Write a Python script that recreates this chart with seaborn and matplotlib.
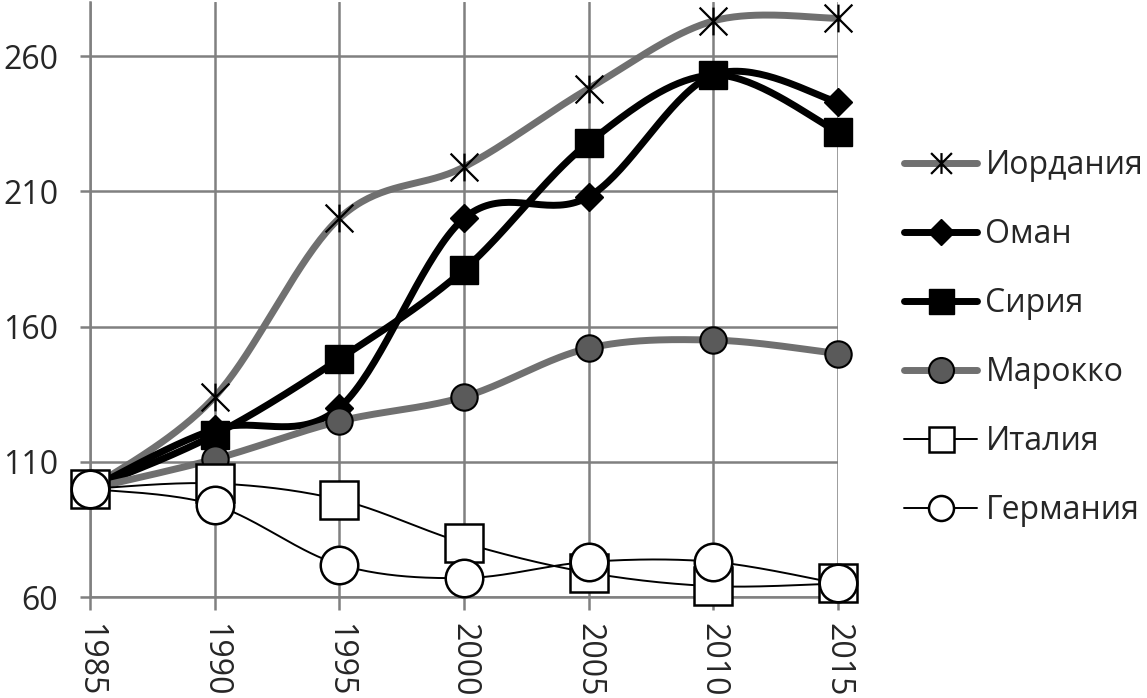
import numpy as np
import pandas as pd
import matplotlib
matplotlib.use("Agg")
import matplotlib.pyplot as plt
from matplotlib.path import Path
from matplotlib.lines import Line2D
import seaborn as sns

# %% Data ----
years = [1985, 1990, 1995, 2000, 2005, 2010, 2015]
countries = ['Иордания', 'Оман', 'Сирия', 'Марокко', 'Италия', 'Германия']
jordan = [100, 134, 200, 219, 248, 273, 274]
oman = [100, 122, 130, 200, 208, 253, 243]
syria = [100, 120, 148, 181, 228, 253, 232]
morocco = [100, 111, 125, 134, 152, 155, 150]
italy = [100, 102, 96, 80, 69, 64, 65]
germany = [100, 94, 72, 67, 73, 73, 65]
series = [jordan, oman, syria, morocco, italy, germany]

y_ticks = [60, 110, 160, 210, 260]

# %% Style ----
sns.set_style('white')
plt.rcParams['font.family'] = ['Open Sans', 'DejaVu Sans']

GRID = '#808080'
GRAY = '#707070'

# asterisk marker: X with a vertical bar
star = Path([(-1, -1), (1, 1), (-1, 1), (1, -1), (0, -1), (0, 1)],
            [Path.MOVETO, Path.LINETO, Path.MOVETO, Path.LINETO, Path.MOVETO, Path.LINETO])

styles = {
    'Иордания': dict(color=GRAY, lw=5, marker=star, ms=20, mfc='none', mec='black', mew=1.6, lms=15),
    'Оман':     dict(color='black', lw=5, marker='D', ms=14, mfc='black', mec='black', mew=1, lms=13),
    'Сирия':    dict(color='black', lw=5, marker='s', ms=20, mfc='black', mec='black', mew=1, lms=18),
    'Марокко':  dict(color=GRAY, lw=5, marker='o', ms=19, mfc='#5a5a5a', mec='black', mew=1.5, lms=18),
    'Италия':   dict(color='black', lw=1.4, marker='s', ms=27, mfc='white', mec='black', mew=1.8, lms=18),
    'Германия': dict(color='black', lw=1.4, marker='o', ms=27, mfc='white', mec='black', mew=1.8, lms=18),
}


def smooth(x, y, n=40):
    """Excel-like smoothed line (Catmull-Rom Bezier segments)."""
    x = np.asarray(x, float)
    y = np.asarray(y, float)
    xp = np.r_[x[0], x, x[-1]]
    yp = np.r_[y[0], y, y[-1]]
    t = np.linspace(0, 1, n)[:, None]
    out = []
    for i in range(len(x) - 1):
        p0 = np.array([xp[i], yp[i]])
        p1 = np.array([xp[i + 1], yp[i + 1]])
        p2 = np.array([xp[i + 2], yp[i + 2]])
        p3 = np.array([xp[i + 3], yp[i + 3]])
        c1 = p1 + (p2 - p0) / 6
        c2 = p2 - (p3 - p1) / 6
        seg = ((1 - t) ** 3) * p1 + 3 * ((1 - t) ** 2) * t * c1 + 3 * (1 - t) * t ** 2 * c2 + t ** 3 * p2
        out.append(seg)
    pts = np.vstack(out)
    return pts[:, 0], pts[:, 1]


# %% Plot ----
fig = plt.figure(figsize=(11.47, 6.98), dpi=100)
ax = fig.add_axes([90 / 1147, 1 - 597 / 698, (838 - 90) / 1147, 595 / 698])

for k, (name, vals) in enumerate(zip(countries, series)):
    st = styles[name]
    sx, sy = smooth(years, vals)
    curve = pd.DataFrame({'x': sx, 'y': sy})
    sns.lineplot(data=curve, x='x', y='y', sort=False, estimator=None, color=st['color'],
                 linewidth=st['lw'], ax=ax, zorder=3 + 2 * k, clip_on=False, solid_capstyle='round')
    ax.plot(years, vals, linestyle='none', marker=st['marker'], markersize=st['ms'],
            markerfacecolor=st['mfc'], markeredgecolor=st['mec'], markeredgewidth=st['mew'],
            zorder=4 + 2 * k, clip_on=False)

ax.set_xlim(1985, 2015)
ax.set_ylim(60, 280)
ax.set_xticks(years)
ax.set_xticklabels([str(y) for y in years], rotation=270, ha='center', va='top')
ax.set_yticks(y_ticks)
ax.set_xlabel('')
ax.set_ylabel('')

ax.grid(True, color=GRID, linewidth=1.8)
ax.set_axisbelow(True)
for side in ['top', 'right']:
    ax.spines[side].set_visible(False)
for side in ['left', 'bottom']:
    ax.spines[side].set_color(GRID)
    ax.spines[side].set_linewidth(1.8)

ax.tick_params(axis='y', direction='out', length=7, width=1.8, color=GRID, labelsize=23, pad=16)
ax.tick_params(axis='x', direction='out', length=9, width=1.8, color=GRID, labelsize=23, pad=10)
ax.tick_params(left=True, bottom=True)

# %% Legend ----
handles = []
for name in countries:
    st = styles[name]
    handles.append(Line2D([0], [0], color=st['color'], linewidth=st['lw'], marker=st['marker'],
                          markersize=st['lms'], markerfacecolor=st['mfc'],
                          markeredgecolor=st['mec'], markeredgewidth=st['mew'],
                          solid_capstyle='round'))

fig.legend(handles, countries, loc='center left', bbox_to_anchor=(904 / 1147, 1 - 338 / 698),
           frameon=False, fontsize=23, handlelength=2.3, handletextpad=0.25,
           labelspacing=1.13, borderpad=0, borderaxespad=0)

fig.savefig('out.png', dpi=100)
